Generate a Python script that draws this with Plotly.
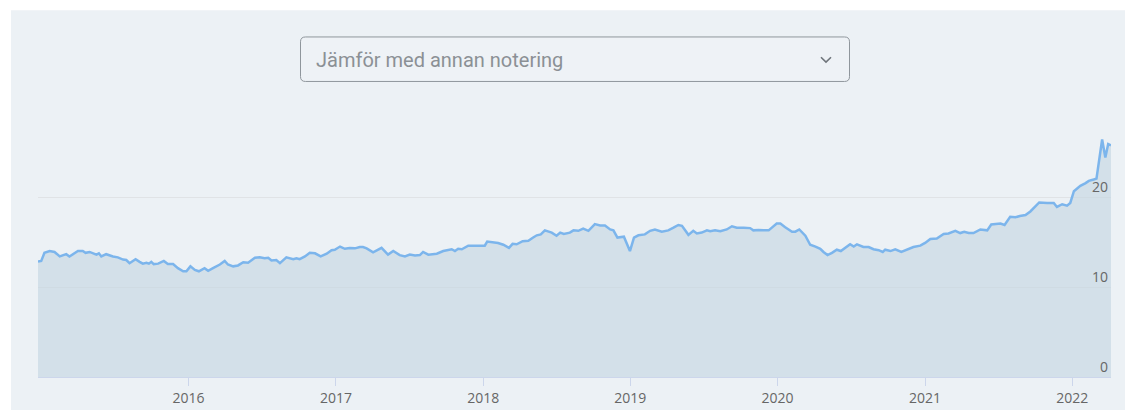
import plotly.graph_objects as go

dates = [
    "2014-12-24", "2015-01-01", "2015-01-09", "2015-01-22", "2015-02-03", "2015-02-16", "2015-03-04", "2015-03-12",
    "2015-04-02", "2015-04-14", "2015-04-21", "2015-05-01", "2015-05-18", "2015-05-24", "2015-05-30", "2015-06-11",
    "2015-06-28", "2015-07-10", "2015-07-23", "2015-07-31", "2015-08-08", "2015-08-23", "2015-09-02", "2015-09-10",
    "2015-09-19", "2015-09-25", "2015-10-01", "2015-10-07", "2015-10-18", "2015-11-01", "2015-11-11", "2015-11-24",
    "2015-12-06", "2015-12-19", "2015-12-27", "2016-01-06", "2016-01-17", "2016-01-27", "2016-02-10", "2016-02-19",
    "2016-03-02", "2016-03-19", "2016-03-31", "2016-04-08", "2016-04-21", "2016-05-03", "2016-05-16", "2016-05-28",
    "2016-06-14", "2016-06-26", "2016-07-08", "2016-07-17", "2016-07-25", "2016-08-06", "2016-08-15", "2016-08-31",
    "2016-09-17", "2016-09-25", "2016-10-03", "2016-10-16", "2016-10-28", "2016-11-10", "2016-11-24", "2016-12-09",
    "2016-12-21", "2016-12-29", "2017-01-11", "2017-01-23", "2017-02-04", "2017-02-17", "2017-03-01", "2017-03-09",
    "2017-03-18", "2017-04-03", "2017-04-24", "2017-05-10", "2017-05-23", "2017-06-08", "2017-06-21", "2017-07-03",
    "2017-07-16", "2017-07-28", "2017-08-05", "2017-08-18", "2017-09-08", "2017-09-24", "2017-10-15", "2017-10-23",
    "2017-10-31", "2017-11-09", "2017-11-25", "2017-12-16", "2018-01-05", "2018-01-11", "2018-02-07", "2018-02-20",
    "2018-03-06", "2018-03-15", "2018-03-25", "2018-04-09", "2018-04-23", "2018-05-05", "2018-05-14", "2018-05-24",
    "2018-06-03", "2018-06-20", "2018-07-02", "2018-07-11", "2018-07-20", "2018-08-04", "2018-08-13", "2018-08-25",
    "2018-09-06", "2018-09-19", "2018-10-05", "2018-10-18", "2018-10-30", "2018-11-12", "2018-11-20", "2018-11-30",
    "2018-12-16", "2018-12-31", "2019-01-10", "2019-01-21", "2019-02-06", "2019-02-19", "2019-03-03", "2019-03-20",
    "2019-04-05", "2019-04-18", "2019-04-30", "2019-05-09", "2019-05-25", "2019-06-06", "2019-06-15", "2019-06-27",
    "2019-07-10", "2019-07-18", "2019-07-30", "2019-08-12", "2019-08-28", "2019-09-10", "2019-09-22", "2019-10-09",
    "2019-10-25", "2019-11-02", "2019-11-15", "2019-11-27", "2019-12-10", "2019-12-30", "2020-01-08", "2020-01-20",
    "2020-02-06", "2020-02-14", "2020-02-24", "2020-03-10", "2020-03-22", "2020-04-04", "2020-04-16", "2020-04-24",
    "2020-05-04", "2020-05-15", "2020-05-27", "2020-06-06", "2020-06-17", "2020-06-29", "2020-07-08", "2020-07-16",
    "2020-08-01", "2020-08-14", "2020-08-26", "2020-09-08", "2020-09-18", "2020-09-24", "2020-10-07", "2020-10-19",
    "2020-11-03", "2020-11-17", "2020-12-03", "2020-12-20", "2021-01-01", "2021-01-14", "2021-01-30", "2021-02-16",
    "2021-02-28", "2021-03-17", "2021-03-29", "2021-04-08", "2021-04-19", "2021-05-01", "2021-05-18", "2021-06-04",
    "2021-06-14", "2021-07-07", "2021-07-17", "2021-07-31", "2021-08-13", "2021-08-24", "2021-09-07", "2021-09-19",
    "2021-10-01", "2021-10-11", "2021-10-31", "2021-11-16", "2021-11-24", "2021-12-07", "2021-12-19", "2021-12-27",
    "2022-01-05", "2022-01-21", "2022-02-03", "2022-02-11", "2022-02-23", "2022-03-02", "2022-03-16", "2022-03-24",
    "2022-03-31", "2022-04-07",
]

values = [
    12.83, 12.9, 13.8, 14.0, 13.9, 13.4, 13.65, 13.4,
    14.0, 14.0, 13.8, 13.9, 13.6, 13.75, 13.4, 13.65,
    13.4, 13.3, 13.05, 13.0, 12.65, 13.1, 12.8, 12.6,
    12.7, 12.6, 12.8, 12.55, 12.6, 12.9, 12.55, 12.55,
    12.1, 11.75, 11.75, 12.3, 11.9, 11.75, 12.1, 11.8,
    12.1, 12.5, 12.9, 12.5, 12.3, 12.4, 12.75, 12.7,
    13.25, 13.3, 13.2, 13.25, 12.95, 13.0, 12.65, 13.3,
    13.1, 13.2, 13.1, 13.4, 13.8, 13.75, 13.4, 13.7,
    14.1, 14.15, 14.5, 14.25, 14.35, 14.3, 14.45, 14.45,
    14.3, 13.85, 14.35, 13.6, 14.0, 13.55, 13.4, 13.6,
    13.5, 13.55, 13.9, 13.6, 13.7, 14.0, 14.2, 14.0,
    14.25, 14.2, 14.6, 14.6, 14.6, 15.05, 14.9, 14.7,
    14.35, 14.8, 14.75, 15.1, 15.15, 15.5, 15.75, 15.85,
    16.3, 16.05, 15.7, 16.05, 15.9, 16.05, 16.3, 16.25,
    16.5, 16.25, 17.0, 16.85, 16.85, 16.4, 16.3, 15.5,
    15.6, 14.0, 15.5, 15.75, 15.85, 16.25, 16.4, 16.15,
    16.3, 16.6, 16.9, 16.8, 15.8, 16.25, 15.95, 16.05,
    16.3, 16.2, 16.3, 16.2, 16.4, 16.75, 16.6, 16.6,
    16.55, 16.3, 16.35, 16.3, 16.3, 17.05, 17.05, 16.65,
    16.15, 16.15, 16.4, 15.7, 14.7, 14.5, 14.25, 13.9,
    13.55, 13.8, 14.15, 14.0, 14.35, 14.75, 14.5, 14.75,
    14.45, 14.45, 14.2, 14.1, 13.9, 14.15, 14.0, 14.2,
    13.9, 14.15, 14.45, 14.6, 14.9, 15.35, 15.4, 15.9,
    15.95, 16.25, 16.0, 16.15, 16.0, 16.0, 16.4, 16.3,
    16.95, 17.05, 16.9, 17.8, 17.75, 17.9, 18.0, 18.4,
    19.0, 19.4, 19.35, 19.35, 18.9, 19.2, 19.05, 19.35,
    20.65, 21.25, 21.55, 21.8, 21.95, 22.05, 26.4, 24.4,
    25.9, 25.75,
]

y_ticks = [0, 10, 20]
x_ticks = ["2016-01-01", "2017-01-01", "2018-01-01", "2019-01-01",
           "2020-01-01", "2021-01-01", "2022-01-01"]
x_tick_labels = ["2016", "2017", "2018", "2019", "2020", "2021", "2022"]
dropdown_text = "Jämför med annan notering"

W, H = 1125, 419
ML, MR, MT, MB = 38, 14, 110, 33
PW, PH = W - ML - MR, H - MT - MB


def px(x):
    return (x - ML) / PW


def py(y):
    return (H - MB - y) / PH


PANEL = "#ecf1f5"

fig = go.Figure()
fig.add_trace(go.Scatter(
    x=dates, y=values, mode="lines", fill="tozeroy",
    line=dict(color="#7cb5ec", width=2.5),
    fillcolor="rgba(195,214,225,0.6)",
    hoverinfo="skip", showlegend=False,
))

shapes = [
    dict(type="rect", xref="paper", yref="paper", layer="below",
         x0=px(11), x1=px(1126), y0=py(420), y1=py(7),
         fillcolor=PANEL, line=dict(width=0)),
]

x0, x1, y0, y1, r = 300.5, 849.5, 34.5, 80.5, 5
p = (f"M {px(x0 + r)},{py(y0)} L {px(x1 - r)},{py(y0)} "
     f"Q {px(x1)},{py(y0)} {px(x1)},{py(y0 + r)} L {px(x1)},{py(y1 - r)} "
     f"Q {px(x1)},{py(y1)} {px(x1 - r)},{py(y1)} L {px(x0 + r)},{py(y1)} "
     f"Q {px(x0)},{py(y1)} {px(x0)},{py(y1 - r)} L {px(x0)},{py(y0 + r)} "
     f"Q {px(x0)},{py(y0)} {px(x0 + r)},{py(y0)} Z")
shapes.append(dict(type="path", xref="paper", yref="paper", path=p,
                   fillcolor="#eef2f6", line=dict(color="#8f969c", width=1)))
c = f"M {px(821)},{py(55.5)} L {px(826)},{py(60.5)} L {px(831)},{py(55.5)}"
shapes.append(dict(type="path", xref="paper", yref="paper", path=c,
                   line=dict(color="#6f757b", width=1.6)))

fig.update_layout(
    width=W, height=H,
    margin=dict(l=ML, r=MR, t=MT, b=MB),
    paper_bgcolor="white",
    plot_bgcolor=PANEL,
    shapes=shapes,
    annotations=[dict(
        text=dropdown_text, xref="paper", yref="paper",
        x=px(314), y=py(58), xanchor="left", yanchor="middle",
        showarrow=False, font=dict(family="Roboto", size=20, color="#8b9095"),
    )],
    xaxis=dict(
        type="date", range=[dates[0], dates[-1]],
        tickvals=x_ticks, ticktext=x_tick_labels,
        ticks="outside", ticklen=8, tickcolor="#ccd6eb", tickwidth=1,
        showline=True, linecolor="#ccd6eb", linewidth=1,
        showgrid=False, zeroline=False,
        tickfont=dict(family="Open Sans", size=14, color="#666666"),
    ),
    yaxis=dict(
        range=[0, PH / 9.3], side="right",
        tickvals=y_ticks, ticklabelposition="inside top",
        showgrid=True, gridcolor="#e0e3e6", gridwidth=1,
        zeroline=False, showline=False, ticks="",
        tickfont=dict(family="Open Sans", size=14, color="#666666"),
    ),
)

fig.write_html(
    "out.html",
    config={"displayModeBar": False},
    post_script="document.body.style.margin='0';document.body.style.overflow='hidden';",
)
